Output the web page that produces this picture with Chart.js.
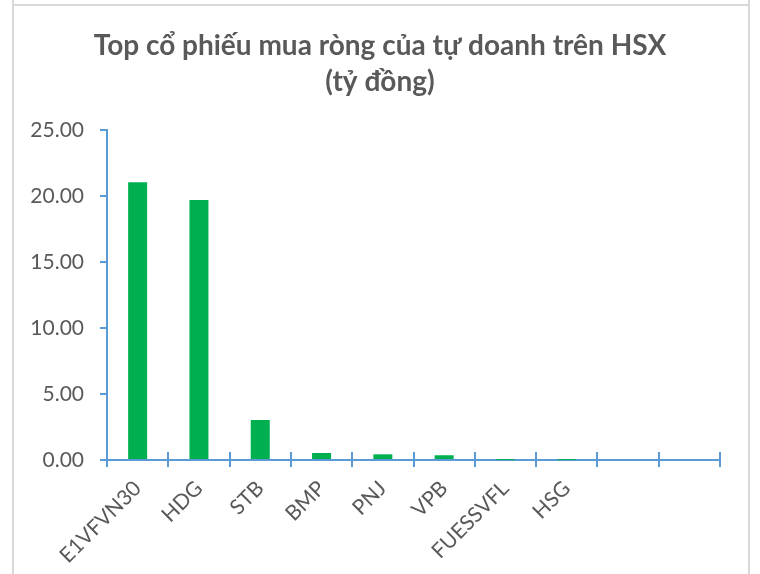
<!DOCTYPE html>
<html>
<head>
<meta charset="utf-8">
<script src="https://cdn.jsdelivr.net/npm/chart.js@4"></script>
<style>
  html, body { margin: 0; padding: 0; background: #fff; }
  #wrap { position: relative; width: 760px; height: 574px; overflow: hidden; }
  #myChart { position: absolute; left: 0; top: 0; }
  .frame-v { position: absolute; top: 0; left: 12px; width: 734px; height: 574px;
             border-left: 2px solid #d9d9d9; border-right: 2px solid #d9d9d9; pointer-events: none; }
  .frame-h { position: absolute; top: 4px; left: 12px; width: 738px; height: 2px;
             background: #d9d9d9; pointer-events: none; }
</style>
</head>
<body>
<div id="wrap">
  <canvas id="myChart" width="760" height="574"></canvas>
  <div class="frame-v"></div>
  <div class="frame-h"></div>
</div>
<script>
const categories = ['E1VFVN30', 'HDG', 'STB', 'BMP', 'PNJ', 'VPB', 'FUESSVFL', 'HSG', '', ''];
const netBuy = [21.05, 19.70, 3.03, 0.53, 0.43, 0.36, 0.01, 0.01, null, null];
const yTicks = [0, 5, 10, 15, 20, 25];

const axisColor = '#5B9BD5';
const textColor = '#595959';
const font = 'Lato';

// tick marks that cross the category axis, like Excel draws them
const crossTicks = {
  id: 'crossTicks',
  afterDraw(chart) {
    const sx = chart.scales.x, ctx = chart.ctx, y0 = sx.top;
    ctx.save();
    ctx.strokeStyle = axisColor;
    ctx.lineWidth = 2;
    for (let i = 0; i <= categories.length; i++) {
      const px = Math.round(sx.getPixelForValue(i - 0.5));
      ctx.beginPath();
      ctx.moveTo(px, y0 - 8);
      ctx.lineTo(px, y0 + 7);
      ctx.stroke();
    }
    ctx.restore();
  }
};

const ctx = document.getElementById('myChart');
new Chart(ctx, {
  type: 'bar',
  data: {
    labels: categories,
    datasets: [{
      data: netBuy,
      backgroundColor: '#00B050',
      borderWidth: 0,
      barPercentage: 0.31,
      categoryPercentage: 1
    }]
  },
  options: {
    responsive: false,
    animation: false,
    layout: { padding: 0 },
    plugins: {
      legend: { display: false },
      tooltip: { enabled: false },
      title: {
        display: true,
        text: ['Top cổ phiếu mua ròng của tự doanh trên HSX', '(tỷ đồng)'],
        color: textColor,
        font: { family: font, size: 28, weight: 'bold', lineHeight: '36px' },
        padding: { top: 28, bottom: 30 }
      }
    },
    scales: {
      x: {
        grid: { display: false, offset: true },
        border: { display: true, color: axisColor, width: 2 },
        ticks: {
          color: textColor,
          font: { family: font, size: 21 },
          maxRotation: 45,
          minRotation: 45,
          padding: 8,
          autoSkip: false
        },
        afterFit(scale) {
          scale.height = 114;
          scale.paddingRight = 40; // keeps the axis end at the same place as the reference
        }
      },
      y: {
        min: 0,
        max: 25,
        afterBuildTicks(scale) { scale.ticks = yTicks.map(v => ({ value: v })); },
        grid: { drawOnChartArea: false, tickLength: 7, color: axisColor, lineWidth: 2 },
        border: { display: true, color: axisColor, width: 2 },
        ticks: {
          color: textColor,
          font: { family: font, size: 21 },
          padding: 16,
          callback: v => v.toFixed(2)
        },
        afterFit(scale) { scale.width = 107; }
      }
    }
  },
  plugins: [crossTicks]
});
</script>
</body>
</html>
